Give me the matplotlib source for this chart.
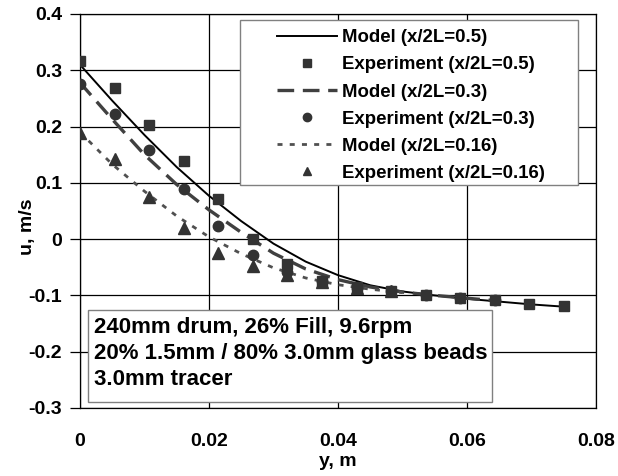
import numpy as np
import matplotlib
matplotlib.use('Agg')
import matplotlib.pyplot as plt
from matplotlib.patches import Rectangle

plt.rcParams['font.family'] = ['Liberation Sans', 'DejaVu Sans']
plt.rcParams['font.weight'] = 'bold'

# experiment positions (m)
y_exp = [0.0, 0.0054, 0.0107, 0.0161, 0.0214, 0.0268, 0.0321, 0.0375,
         0.0429, 0.0482, 0.0536, 0.0589, 0.0643, 0.0696, 0.075]
u_exp_05 = [0.317, 0.269, 0.203, 0.138, 0.072, 0.0, -0.045, -0.074,
            -0.085, -0.092, -0.099, -0.104, -0.109, -0.115, -0.119]
u_exp_03 = [0.276, 0.223, 0.158, 0.089, 0.024, -0.028, -0.058, -0.075,
            -0.086, -0.093, -0.099, -0.104, -0.108]
u_exp_016 = [0.189, 0.143, 0.075, 0.020, -0.024, -0.048, -0.064, -0.076,
             -0.087, -0.092]

# model curves
y_mod = [0.0, 0.005, 0.01, 0.015, 0.02, 0.025, 0.03, 0.035, 0.04, 0.045,
         0.05, 0.055, 0.06, 0.065, 0.07, 0.075]
u_mod_05 = [0.31, 0.246, 0.185, 0.128, 0.077, 0.032, -0.008, -0.040, -0.064,
            -0.082, -0.093, -0.100, -0.106, -0.111, -0.116, -0.12]
u_mod_03 = [0.278, 0.213, 0.150, 0.097, 0.052, 0.012, -0.025, -0.053, -0.072,
            -0.085, -0.094, -0.1, -0.105, -0.11]
u_mod_016 = [0.19, 0.133, 0.085, 0.041, 0.004, -0.026, -0.051, -0.069, -0.081,
             -0.089, -0.095]

labels = ['Model (x/2L=0.5)', 'Experiment (x/2L=0.5)', 'Model (x/2L=0.3)',
          'Experiment (x/2L=0.3)', 'Model (x/2L=0.16)', 'Experiment (x/2L=0.16)']
info_lines = ['240mm drum, 26% Fill, 9.6rpm',
              '20% 1.5mm / 80% 3.0mm glass beads',
              '3.0mm tracer']

fig = plt.figure(figsize=(6.18, 4.76), dpi=100)
ax = fig.add_axes([0.1294, 0.1429, 0.8350, 0.8277])

mk = '#333333'
h1, = ax.plot(y_mod, u_mod_05, color='black', lw=1.4, zorder=3)
h3, = ax.plot(y_mod[:len(u_mod_03)], u_mod_03, color='#404040', lw=2.4,
              linestyle=(0, (5, 2.6)), zorder=3)
h5, = ax.plot(y_mod[:len(u_mod_016)], u_mod_016, color='#505050', lw=2.0,
              linestyle=(0, (1.8, 2.6)), zorder=3)
h2, = ax.plot(y_exp, u_exp_05, 's', color=mk, ms=7.5, lw=0, zorder=4)
h4, = ax.plot(y_exp[:len(u_exp_03)], u_exp_03, 'o', color=mk, ms=7.5, lw=0, zorder=4)
h6, = ax.plot(y_exp[:len(u_exp_016)], u_exp_016, '^', color=mk, ms=8, lw=0, zorder=4)

ax.set_xlim(0, 0.08)
ax.set_ylim(-0.3, 0.4)
ax.set_xticks([0, 0.02, 0.04, 0.06, 0.08])
ax.set_xticklabels(['0', '0.02', '0.04', '0.06', '0.08'])
ax.set_yticks(np.round(np.arange(-0.3, 0.41, 0.1), 1))
ax.set_yticklabels(['-0.3', '-0.2', '-0.1', '0', '0.1', '0.2', '0.3', '0.4'])
ax.grid(True, color='black', lw=0.9)
ax.set_axisbelow(True)
for s in ax.spines.values():
    s.set_color('black')
    s.set_linewidth(0.9)
ax.tick_params(axis='y', direction='out', length=7, width=0.9, pad=6,
               labelsize=14)
ax.tick_params(axis='x', length=0, pad=18, labelsize=14)
ax.set_xlabel('y, m', fontsize=14, fontweight='bold', labelpad=2)
ax.set_ylabel('u, m/s', fontsize=14, fontweight='bold')
ax.yaxis.set_label_coords(-0.085, 0.46)

# legend frame
ax.add_patch(Rectangle((0.310, 0.566), 0.655, 0.419, transform=ax.transAxes,
                       facecolor='white', edgecolor='#808080', lw=1.0, zorder=5))
leg = ax.legend([h1, h2, h3, h4, h5, h6], labels, loc='upper left',
                bbox_to_anchor=(0.382, 0.961), frameon=False, borderpad=0,
                borderaxespad=0, handlelength=3.2, handletextpad=0.3,
                labelspacing=0.54, markerscale=0.8,
                prop={'size': 13.4, 'weight': 'bold'})
leg.set_zorder(6)

# info box
ax.add_patch(Rectangle((0.0155, 0.015), 0.7825, 0.234, transform=ax.transAxes,
                       facecolor='white', edgecolor='#808080', lw=1.0, zorder=5))
ax.text(0.027, 0.231, '\n'.join(info_lines), transform=ax.transAxes,
        fontsize=16, fontweight='bold', va='top', ha='left',
        linespacing=1.3, zorder=6)

fig.savefig('out.png', dpi=100)
